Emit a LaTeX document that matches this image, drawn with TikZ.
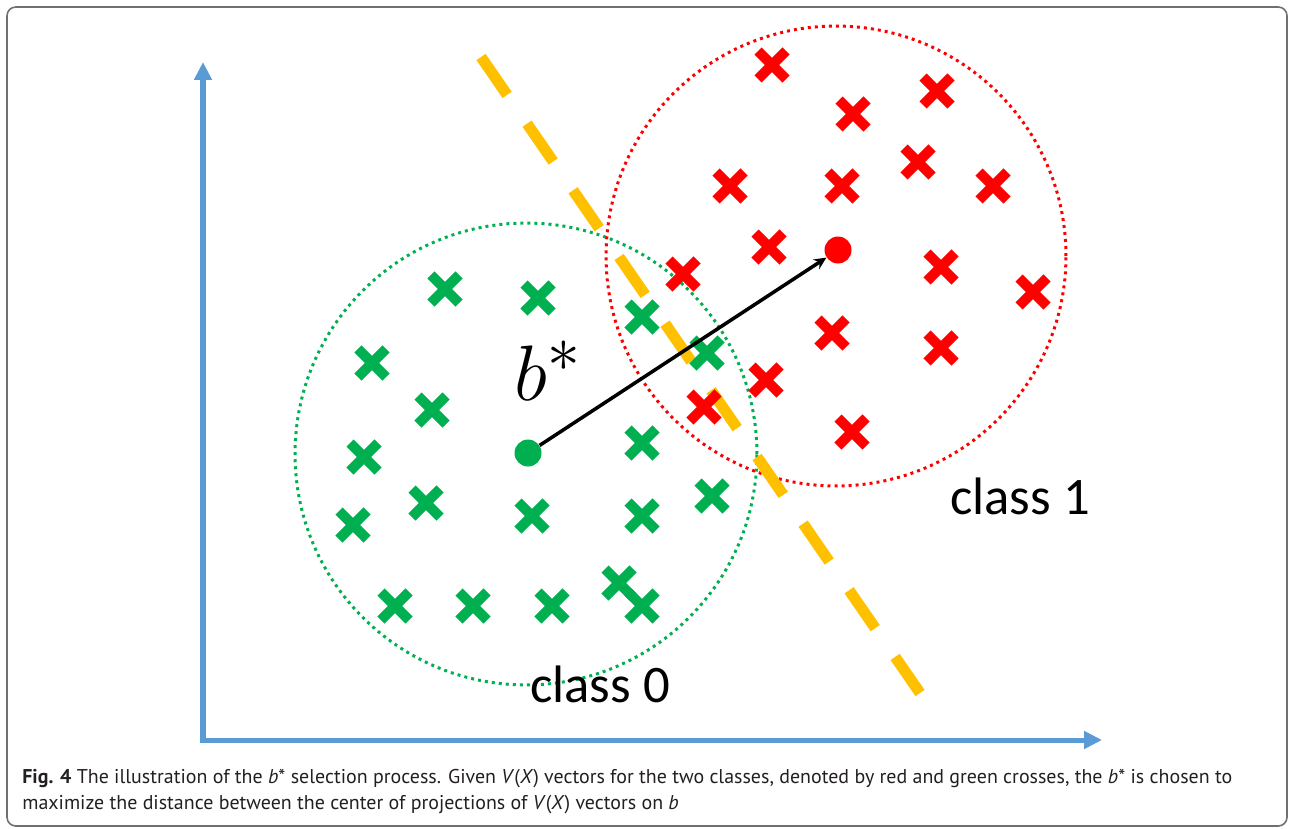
\documentclass[tikz,border=0pt]{standalone}
\usepackage{fontspec}
\setmainfont{Carlito}
\newfontfamily\capfont{PT Sans}
\usetikzlibrary{arrows.meta,shapes.misc}
\definecolor{AxisBlue}{HTML}{5B9BD5}
\definecolor{SepGold}{HTML}{FFC000}
\definecolor{ClsGreen}{HTML}{00B050}
\definecolor{ClsRed}{HTML}{FF0000}
\definecolor{FrameGray}{HTML}{707070}
\definecolor{CapInk}{HTML}{231F20}

\begin{document}
\begin{tikzpicture}[x=0.02cm, y=-0.02cm,
  ax/.style={AxisBlue, line width=2.85pt,
             {Triangle[length=10.2pt,width=9.7pt]}-{Triangle[length=10.2pt,width=9.7pt]}},
  ring/.style={circle, draw, inner sep=0pt, line width=1.7pt,
               dash pattern=on 1.7pt off 2.3pt},
  xm/.style={cross out, draw, line width=5.7pt, minimum size=0.36cm, inner sep=0pt},
  ctr/.style={circle, fill, minimum size=0.54cm, inner sep=0pt},
  lbl/.style={font=\fontsize{30}{34}\selectfont, anchor=base west, inner sep=0pt},
  capline/.style={font=\capfont\fontsize{11.35}{13}\selectfont, text=CapInk,
              anchor=base west, inner sep=0pt}]
  \useasboundingbox (0,0) rectangle (1290,828);
  \draw[FrameGray, line width=0.9pt, rounded corners=5pt] (7,7) rectangle (1287,826);
  % axes
  \coordinate (O) at (203,740);
  \coordinate (ytip) at (203,62);
  \coordinate (xtip) at (1102,740);
  \draw[ax] (ytip) -- (O) -- (xtip);
  % class regions
  \node[ring, ClsGreen, minimum size=9.24cm] (c0) at (526,454) {};
  \node[ring, ClsRed, minimum size=9.2cm] (c1) at (836,256) {};
  % separating line
  \coordinate (s0) at (481,57);
  \coordinate (s1) at (920,693);
  \draw[SepGold, line width=6.3pt, dash pattern=on 26.2pt off 19.9pt] (s0) -- (s1);
  % crosses
  \foreach \p [count=\i] in {(445,289),(538,298),(642,317),(707,353),(372,363),
      (432,410),(364,457),(642,443),(426,503),(532,516),(642,516),(712,496),
      (353,525),(395,606),(473,606),(552,606),(619,583),(642,606)}
    \node[xm, ClsGreen] (g\i) at \p {};
  \foreach \p [count=\i] in {(772,65),(937,91),(853,114),(918,162),(730,186),
      (842,186),(993,186),(769,247),(683,274),(941,267),(1033,292),(832,333),
      (941,348),(766,380),(704,407),(852,432)}
    \node[xm, ClsRed] (r\i) at \p {};
  % centres
  \node[ctr, ClsGreen] (m0) at (528,453) {};
  \node[ctr, ClsRed] (m1) at (838,250) {};
  \draw[line width=2pt, -{Stealth[length=7pt,width=6.5pt]}] (m0) -- (m1);
  \node[anchor=base west, inner sep=0pt] (bstar) at (514,400)
    {\scalebox{1.8}{\fontsize{24.88}{28}\selectfont$b^{*}$}};
  \node[lbl] (cl0) at (530,702) {class 0};
  \node[lbl] (cl1) at (950,514) {class 1};
  % caption
  \node[capline] (cap1) at (22,783) {\textbf{Fig. 4} The illustration of the \textit{b}* selection process. Given \textit{V}(\textit{X}) vectors for the two classes, denoted by red and green crosses, the \textit{b}* is chosen to};
  \node[capline] (cap2) at (22,809) {maximize the distance between the center of projections of \textit{V}(\textit{X}) vectors on \textit{b}};
\end{tikzpicture}
\end{document}
